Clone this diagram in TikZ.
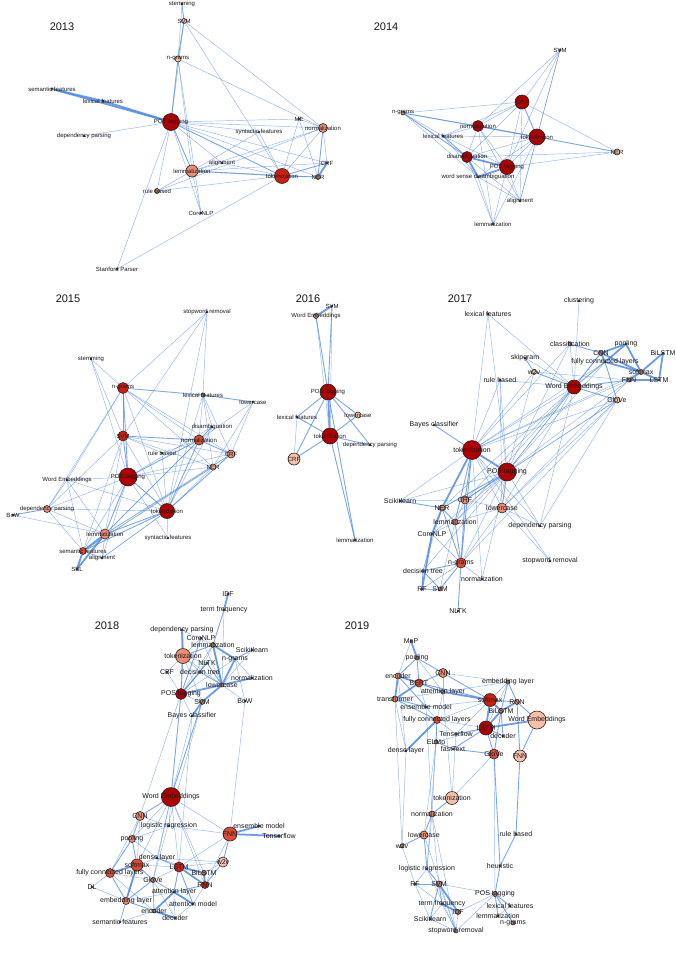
\documentclass[tikz,border=0pt]{standalone}
\usepackage{fontspec}
\setmainfont{Liberation Sans}
\usetikzlibrary{backgrounds}

% 节点颜色 (由深到浅)
\definecolor{c1}{HTML}{B00000}
\definecolor{c2}{HTML}{CC1F10}
\definecolor{c3}{HTML}{E04A32}
\definecolor{c4}{HTML}{EE8C72}
\definecolor{c5}{HTML}{F7BFA8}
\definecolor{c6}{HTML}{B88070}
\definecolor{eb}{HTML}{4A86E8}
\definecolor{txt}{HTML}{1A1A1A}

\newcommand{\labs}{\fontsize{6}{7}\selectfont}
\newcommand{\labm}{\fontsize{7}{8}\selectfont}

\tikzset{
  v/.style={circle, draw=black!85, line width=0.6pt, inner sep=0pt, minimum size=#1, fill=c6},
  v/.default=2.5pt,
  every label/.style={text=txt, inner sep=0pt, font=\labs},
  yr/.style={font=\fontsize{11}{12}\selectfont, text=txt},
  e/.style={draw=eb, line width=0.45pt, opacity=0.6},
  em/.style={draw=eb, line width=0.9pt, opacity=0.72},
  et/.style={draw=eb, line width=1.8pt, opacity=0.82}
}

\begin{document}
\begin{tikzpicture}[x=1pt, y=-1pt]
  % 画布大小
  \begin{scope}[on background layer]
    \fill[white] (0,0) rectangle (676,956);
  \end{scope}
  \useasboundingbox (0,0) rectangle (676,956);

  % 2013 年
  \node[yr] (y13) at (62,27) {2013};
  \node[v, label=center:stemming] (stem13) at (182,4) {};
  \node[v=5pt, fill=c5, label=center:SVM] (svm13) at (184,21) {};
  \node[v=6pt, fill=c5, label=center:n-grams] (ngr13) at (178,59) {};
  \node[v, label=center:semantic features] (sem13) at (52,89) {};
  \node[v, label=center:lexical features] (lex13) at (103,101) {};
  \node[v=17pt, fill=c1, label=center:POS tagging] (pos13) at (171,122) {};
  \node[v=2pt, label=center:dependency parsing] (dep13) at (84,136) {};
  \node[v=2pt, label=center:ME] (me13) at (299,119) {};
  \node[v=9pt, fill=c4, label=center:normalization] (norm13) at (323,128) {};
  \node[v=2pt, label=center:syntactic features] (syn13) at (259,132) {};
  \node[v=2pt, label=center:alignment] (ali13) at (222,163) {};
  \node[v=12pt, fill=c4, label=center:lemmatization] (lem13) at (192,171) {};
  \node[v, label=center:CRF] (crf13) at (327,163) {};
  \node[v=15pt, fill=c2, label=center:tokenization] (tok13) at (282,176) {};
  \node[v=5pt, label=center:NER] (ner13) at (318,177) {};
  \node[v=5pt, label=center:rule based] (rule13) at (157,191) {};
  \node[v=2pt, label=center:CoreNLP] (core13) at (201,213) {};
  \node[v=2pt, label=center:Stanford Parser] (stan13) at (117,269) {};
  \begin{scope}[on background layer]
    \foreach \a/\b in {sem/lex, lex/pos, sem/pos, crf/ner}
      \draw[et] (\a13) -- (\b13);
    \foreach \a/\b in {ngr/pos, svm/ngr, stem/svm, pos/lem, pos/tok, norm/ner, tok/ner, lem/tok, tok/crf}
      \draw[em] (\a13) -- (\b13);
    \foreach \a/\b in {stem/ngr, svm/tok, svm/norm, svm/pos, ngr/norm, ngr/lem, ngr/core, pos/dep, pos/me,
      pos/norm, pos/syn, pos/crf, pos/ner, pos/ali, pos/rule, pos/core, pos/stan, lem/norm, lem/ali, lem/core,
      lem/rule, lem/crf, lem/syn, rule/tok, tok/norm, tok/me, tok/stan, tok/syn, ali/tok, norm/crf, me/norm,
      rule/norm, lem/ner, me/ner}
      \draw[e] (\a13) -- (\b13);
  \end{scope}

  % 2014 年
  \node[yr] (y14) at (386,27) {2014};
  \node[v, label=center:SVM] (svm14) at (560,50) {};
  \node[v=14pt, fill=c1, label=center:CRF] (crf14) at (522,102) {};
  \node[v=4pt, label=center:n-grams] (ngr14) at (403,113) {};
  \node[v=11pt, fill=c1, label=center:normalization] (norm14) at (478,126) {};
  \node[v=2pt, label=center:lexical features] (lex14) at (443,136) {};
  \node[v=16pt, fill=c1, label=center:tokenization] (tok14) at (537,137) {};
  \node[v=6pt, fill=c5, label=center:NER] (ner14) at (617,152) {};
  \node[v=11pt, fill=c1, label=center:disambiguation] (dis14) at (467,157) {};
  \node[v=15pt, fill=c1, label=center:POS tagging] (pos14) at (507,167) {};
  \node[v=2pt, label=center:word sense disambiguation] (wsd14) at (478,177) {};
  \node[v=2pt, label=center:alignment] (ali14) at (520,201) {};
  \node[v=2pt, label=center:lemmatization] (lem14) at (493,224) {};
  \begin{scope}[on background layer]
    \foreach \a/\b in {dis/wsd, dis/pos, wsd/pos}
      \draw[et] (\a14) -- (\b14);
    \foreach \a/\b in {ngr/tok, norm/tok, tok/ner, crf/tok, lex/dis, ngr/dis}
      \draw[em] (\a14) -- (\b14);
    \foreach \a/\b in {svm/crf, svm/tok, svm/pos, svm/ali, svm/norm, ngr/crf, ngr/norm, ngr/lex, ngr/wsd,
      crf/norm, crf/dis, crf/pos, crf/ali, crf/ner, crf/lex, norm/dis, norm/pos, norm/lex, norm/ali, lex/tok,
      lex/pos, lex/wsd, tok/dis, tok/pos, tok/ali, tok/lem, dis/ner, pos/ner, dis/lem, dis/ali, pos/ali,
      pos/lem, wsd/ali, wsd/lem, norm/lem, tok/wsd}
      \draw[e] (\a14) -- (\b14);
  \end{scope}

  % 2015 年
  \node[yr] (y15) at (68,299) {2015};
  \node[v=2pt, label=center:stopword removal] (stop15) at (207,312) {};
  \node[v=2pt, label=center:stemming] (stem15) at (91,359) {};
  \node[v=11pt, fill=c2, label=center:n-grams] (ngr15) at (123,388) {};
  \node[v=4pt, label=center:lexical features] (lex15) at (203,395) {};
  \node[v=2pt, label=center:lowercase] (low15) at (253,402) {};
  \node[v=2pt, label=center:disambiguation] (dis15) at (212,427) {};
  \node[v=10pt, fill=c2, label=center:SVM] (svm15) at (123,436) {};
  \node[v=10pt, fill=c3, label=center:normalization] (norm15) at (199,440) {};
  \node[v=8pt, fill=c4, label=center:CRF] (crf15) at (231,454) {};
  \node[v=2pt, label=center:rule based] (rule15) at (162,453) {};
  \node[v=6pt, fill=c5, label=center:NER] (ner15) at (213,467) {};
  \node[v=18pt, fill=c1, label=center:POS tagging] (pos15) at (128,477) {};
  \node[v=2pt, label=center:Word Embeddings] (we15) at (67,480) {};
  \node[v=7pt, fill=c4, label=center:dependency parsing] (dep15) at (47,509) {};
  \node[v=2pt, label=center:BoW] (bow15) at (13,515) {};
  \node[v=15pt, fill=c1, label=center:tokenization] (tok15) at (167,511) {};
  \node[v=10pt, fill=c4, label=center:lemmatization] (lem15) at (105,534) {};
  \node[v=2pt, label=center:syntactic features] (syn15) at (168,538) {};
  \node[v=7pt, fill=c3, label=center:semantic features] (sem15) at (83,551) {};
  \node[v=2pt, label=center:alignment] (ali15) at (102,558) {};
  \node[v=2pt, label=center:SBL] (sbl15) at (77,569) {};
  \begin{scope}[on background layer]
    \foreach \a/\b in {sem/sbl, sem/lem, lem/sbl}
      \draw[et] (\a15) -- (\b15);
    \foreach \a/\b in {ngr/lex, lex/low, norm/crf, ngr/pos, svm/pos, pos/lem, dep/bow, norm/pos, tok/norm,
      tok/crf, lem/norm, lem/tok, sem/tok, ngr/svm, svm/norm, dis/norm, pos/tok}
      \draw[em] (\a15) -- (\b15);
    \foreach \a/\b in {stop/ngr, stop/lex, stop/svm, stop/tok, stem/ngr, stem/svm, stem/pos, ngr/norm, ngr/crf,
      ngr/ner, ngr/dep, ngr/we, ngr/tok, lex/dis, lex/norm, lex/ner, lex/crf, lex/tok, low/crf, low/norm,
      low/ner, svm/crf, svm/ner, svm/rule, svm/tok, svm/lem, svm/dep, svm/sem, dis/pos, dis/tok, pos/crf,
      pos/ner, pos/we, pos/dep, pos/syn, pos/ali, pos/sem, we/tok, we/dep, we/sem, we/lem, dep/lem, dep/tok,
      dep/sem, tok/syn, tok/ner, tok/ali, lem/ali, lem/crf, lem/ner, sem/ali, sem/ner, rule/tok, rule/norm,
      ali/tok, sem/crf, bow/lem}
      \draw[e] (\a15) -- (\b15);
  \end{scope}

  % 2016 年
  \node[yr] (y16) at (308,299) {2016};
  \node[v=2pt, label=center:SVM] (svm16) at (332,306) {};
  \node[v=5pt, label=center:Word Embeddings] (we16) at (316,316) {};
  \node[v=16pt, fill=c1, label=center:POS tagging] (pos16) at (328,392) {};
  \node[v=2pt, label=center:lexical features] (lex16) at (297,417) {};
  \node[v=6pt, fill=c5, label=center:lowercase] (low16) at (358,415) {};
  \node[v=16pt, fill=c1, label=center:tokenization] (tok16) at (330,436) {};
  \node[v=2pt, label=center:dependency parsing] (dep16) at (370,445) {};
  \node[v=12pt, fill=c5, label=center:CRF] (crf16) at (294,459) {};
  \node[v=2pt, label=center:lemmatization] (lem16) at (355,540) {};
  \begin{scope}[on background layer]
    \foreach \a/\b in {svm/we, pos/tok}
      \draw[et] (\a16) -- (\b16);
    \foreach \a/\b in {we/pos, svm/pos, pos/lex, pos/low, pos/crf, tok/crf, tok/lex, tok/low, tok/dep, pos/dep,
      tok/lem, pos/lem}
      \draw[em] (\a16) -- (\b16);
    \foreach \a/\b in {we/tok, svm/tok, lex/crf}
      \draw[e] (\a16) -- (\b16);
  \end{scope}

  % 2017 年
  \node[yr] (y17) at (460,299) {2017};
  \begin{scope}[every label/.append style={font=\labm}]
  \node[v=2pt, label=center:clustering] (clu17) at (579,301) {};
  \node[v, label=center:lexical features] (lexf17) at (488,314) {};
  \node[v=4pt, label=center:classification] (cls17) at (570,344) {};
  \node[v=2pt, label=center:pooling] (pool17) at (626,344) {};
  \node[v=5pt, label=center:CNN] (cnn17) at (601,353) {};
  \node[v=2pt, label=center:BiLSTM] (bil17) at (663,353) {};
  \node[v=2pt, label=center:skipgram] (skip17) at (525,358) {};
  \node[v, label=center:fully connected layers] (fcl17) at (605,362) {};
  \node[v=5pt, fill=c5, label=center:w2v] (w2v17) at (534,372) {};
  \node[v=5pt, label=center:softmax] (soft17) at (641,372) {};
  \node[v=2pt, label=center:rule based] (rule17) at (500,380) {};
  \node[v=4pt, label=center:FNN] (fnn17) at (629,380) {};
  \node[v=2pt, label=center:LSTM] (lstm17) at (659,380) {};
  \node[v=14pt, fill=c1, label=center:Word Embeddings] (we17) at (574,387) {};
  \node[v=6pt, fill=c5, label=center:GloVe] (glv17) at (617,400) {};
  \node[v=2pt, label=center:Bayes classifier] (bay17) at (434,425) {};
  \node[v=19pt, fill=c1, label=center:tokenization] (tok17) at (472,450) {};
  \node[v=18pt, fill=c1, label=center:POS tagging] (pos17) at (507,472) {};
  \node[v=2pt, label=center:Scikitlearn] (sci17) at (400,501) {};
  \node[v=8pt, fill=c4, label=center:CRF] (crf17) at (465,500) {};
  \node[v=6pt, fill=c4, label=center:NER] (ner17) at (442,508) {};
  \node[v=10pt, fill=c4, label=center:lowercase] (low17) at (502,508) {};
  \node[v=6pt, fill=c4, label=center:lemmatization] (lem17) at (455,522) {};
  \node[v=2pt, label=center:dependency parsing] (dep17) at (540,526) {};
  \node[v, label=center:CoreNLP] (core17) at (432,534) {};
  \node[v=10pt, fill=c3, label=center:n-grams] (ngr17) at (461,563) {};
  \node[v=2pt, label=center:stopword removal] (stop17) at (550,561) {};
  \node[v, label=center:decision tree] (dt17) at (423,571) {};
  \node[v=2pt, label=center:normalization] (norm17) at (482,579) {};
  \node[v, label=center:RF] (rf17) at (422,589) {};
  \node[v=4pt, label=center:SVM] (svm17) at (440,589) {};
  \node[v=2pt, label=center:NLTK] (nltk17) at (458,611) {};
  \end{scope}
  \begin{scope}[on background layer]
    \foreach \a/\b in {cnn/pool, pool/soft, cnn/soft, bil/lstm, soft/lstm, soft/bil, fcl/soft, cnn/fcl,
      fnn/soft, tok/ner, ner/core, core/rf, tok/pos, fnn/lstm, pool/fcl}
      \draw[et] (\a17) -- (\b17);
    \foreach \a/\b in {skip/w2v, w2v/we, tok/crf, tok/lem, pos/crf, pos/ner, pos/low, ner/lem, lem/ngr,
      ner/ngr, ngr/dt, ngr/svm, dt/rf, ngr/nltk, tok/bay, we/glv, we/fnn, we/cnn, cls/cnn, fcl/glv, we/fcl,
      tok/ngr, crf/ngr, sci/ner, dt/svm}
      \draw[em] (\a17) -- (\b17);
    \foreach \a/\b in {clu/we, lexf/tok, lexf/pos, lexf/we, cls/tok, cls/we, cls/pos, rule/tok, rule/pos,
      rule/we, rule/low, w2v/tok, w2v/pos, we/tok, we/pos, we/low, we/crf, we/ner, we/dep, glv/tok, glv/pos,
      glv/low, glv/dep, fnn/tok, fnn/pos, soft/tok, fcl/tok, cnn/pos, tok/low, tok/dep, tok/stop, tok/sci,
      pos/sci, pos/lem, pos/dep, pos/ngr, pos/core, pos/dt, pos/norm, sci/crf, crf/lem, crf/low, low/ngr,
      low/lem, low/dep, ner/dt, ngr/rf, ngr/norm, ngr/core, lem/core, lem/svm, rf/svm, core/dt, tok/norm,
      we/lem, skip/we, w2v/fnn, fcl/pos, glv/crf, low/stop, glv/ngr, fnn/low}
      \draw[e] (\a17) -- (\b17);
  \end{scope}

  % 2018 年
  \node[yr] (y18) at (107,626) {2018};
  \begin{scope}[every label/.append style={font=\labm}]
  \node[v, label=center:IDF] (idf18) at (228,594) {};
  \node[v=2pt, label=center:term frequency] (tf18) at (224,610) {};
  \node[v, label=center:dependency parsing] (dep18) at (182,630) {};
  \node[v=2pt, label=center:CoreNLP] (core18) at (201,638) {};
  \node[v=5pt, label=center:lemmatization] (lem18) at (213,645) {};
  \node[v=2pt, label=center:Scikitlearn] (sci18) at (252,650) {};
  \node[v=15pt, fill=c4, label=center:tokenization] (tok18) at (183,656) {};
  \node[v, label=center:n-grams] (ngr18) at (235,659) {};
  \node[v, label=center:NLTK] (nltk18) at (207,663) {};
  \node[v=2pt, label=center:CBF] (cbf18) at (167,672) {};
  \node[v=2pt, label=center:decision tree] (dt18) at (200,672) {};
  \node[v=2pt, label=center:normalization] (norm18) at (252,678) {};
  \node[v=4pt, label=center:lowercase] (low18) at (222,685) {};
  \node[v=11pt, fill=c1, label=center:POS tagging] (pos18) at (181,694) {};
  \node[v=5pt, label=center:SVM] (svm18) at (202,702) {};
  \node[v=2pt, label=center:BoW] (bow18) at (245,701) {};
  \node[v=2pt, label=center:Bayes classifier] (bay18) at (192,716) {};
  \node[v=19pt, fill=c1, label=center:Word Embeddings] (we18) at (171,797) {};
  \node[v=9pt, fill=c4, label=center:CNN] (cnn18) at (140,816) {};
  \node[v=2pt, label=center:logistic regression] (logr18) at (169,826) {};
  \node[v=2pt, label=center:ensemble model] (ens18) at (259,826) {};
  \node[v=14pt, fill=c3, label=center:FNN] (fnn18) at (230,834) {};
  \node[v=2pt, label=center:Tensorflow] (tens18) at (279,836) {};
  \node[v=7pt, fill=c4, label=center:pooling] (pool18) at (132,839) {};
  \node[v=2pt, label=center:dense layer] (dense18) at (157,858) {};
  \node[v=12pt, fill=c3, label=center:softmax] (soft18) at (137,865) {};
  \node[v=10pt, fill=c2, label=center:LSTM] (lstm18) at (179,867) {};
  \node[v=10pt, fill=c5, label=center:w2v] (w2v18) at (223,862) {};
  \node[v=9pt, fill=c3, label=center:fully connected layers] (fcl18) at (110,873) {};
  \node[v=5pt, label=center:BiLSTM] (bil18) at (204,873) {};
  \node[v=5pt, label=center:GloVe] (glv18) at (153,880) {};
  \node[v=7pt, fill=c2, label=center:RNN] (rnn18) at (205,885) {};
  \node[v=2pt, label=center:DL] (dl18) at (92,887) {};
  \node[v, label=center:attention layer] (att18) at (174,892) {};
  \node[v=7pt, fill=c4, label=center:embedding layer] (emb18) at (126,901) {};
  \node[v=2pt, label=center:attention model] (attm18) at (193,904) {};
  \node[v=4pt, label=center:encoder] (enc18) at (154,911) {};
  \node[v=2pt, label=center:decoder] (dec18) at (175,918) {};
  \node[v=2pt, label=center:semantic features] (semf18) at (120,922) {};
  \end{scope}
  \begin{scope}[on background layer]
    \foreach \a/\b in {idf/tf, dep/tok, low/norm, low/ngr, low/lem, lem/ngr, pos/low, svm/low, svm/bay,
      fcl/soft, lstm/bil, lstm/rnn, bil/rnn, att/attm, enc/dec, enc/att, soft/emb, fnn/ens, fnn/tens}
      \draw[et] (\a18) -- (\b18);
    \foreach \a/\b in {tf/lem, tok/pos, tok/lem, pos/dt, pos/nltk, dt/low, nltk/low, core/pos, sci/ngr,
      we/cnn, cnn/pool, pool/soft, pool/fcl, soft/glv, lstm/att, lstm/attm, lstm/dense, enc/glv, att/rnn,
      w2v/rnn, fnn/w2v, fcl/emb, emb/glv, emb/dec, pos/we, svm/we}
      \draw[em] (\a18) -- (\b18);
    \foreach \a/\b in {tf/low, dep/pos, dep/lem, core/tok, core/low, tok/nltk, tok/dt, tok/low, tok/svm,
      cbf/pos, cbf/tok, lem/pos, lem/low, lem/dt, ngr/pos, ngr/bow, ngr/norm, sci/low, nltk/dt, pos/svm,
      pos/bay, bow/low, bay/we, bay/lstm, bow/fnn, pos/cnn, svm/glv, we/logr, we/fnn, we/pool, we/soft,
      we/lstm, we/glv, we/bil, we/dense, we/rnn, cnn/fcl, cnn/soft, cnn/logr, logr/fnn, logr/pool, pool/dense,
      soft/dense, soft/lstm, fcl/dl, fcl/glv, fcl/enc, soft/semf, emb/semf, emb/dl, enc/semf, glv/lstm,
      glv/att, dense/w2v, dense/bil, w2v/lstm, w2v/bil, fnn/lstm, fnn/rnn, att/dec, attm/dec, attm/rnn,
      glv/dec, glv/attm, emb/att}
      \draw[e] (\a18) -- (\b18);
  \end{scope}

  % 2019 年
  \node[yr] (y19) at (357,626) {2019};
  \begin{scope}[every label/.append style={font=\labm}]
  \node[v=2pt, label=center:MaP] (map19) at (411,641) {};
  \node[v=4pt, label=center:pooling] (pool19) at (417,658) {};
  \node[v=9pt, fill=c4, label=center:CNN] (cnn19) at (443,673) {};
  \node[v=6pt, fill=c4, label=center:encoder] (enc19) at (398,676) {};
  \node[v=8pt, fill=c3, label=center:BERT] (bert19) at (419,683) {};
  \node[v=4pt, label=center:embedding layer] (embl19) at (508,682) {};
  \node[v=4pt, label=center:attention layer] (attl19) at (443,692) {};
  \node[v=6pt, fill=c4, label=center:transformer] (trans19) at (395,699) {};
  \node[v=13pt, fill=c2, label=center:softmax] (soft19) at (490,700) {};
  \node[v=5pt, fill=c4, label=center:RNN] (rnn19) at (517,702) {};
  \node[v=2pt, label=center:ensemble model] (ens19) at (426,707) {};
  \node[v=5pt, label=center:BiLSTM] (bil19) at (501,711) {};
  \node[v=18pt, fill=c5, label=center:Word Embeddings] (we19) at (537,720) {};
  \node[v=7pt, fill=c3, label=center:fully connected layers] (fcl19) at (437,720) {};
  \node[v=14pt, fill=c1, label=center:LSTM] (lstm19) at (486,728) {};
  \node[v=2pt, label=center:Tensorflow] (tens19) at (456,734) {};
  \node[v=2pt, label=center:decoder] (dec19) at (503,736) {};
  \node[v=4pt, label=center:ELMo] (elmo19) at (436,742) {};
  \node[v=2pt, label=center:fastText] (fast19) at (453,749) {};
  \node[v=2pt, label=center:dense layer] (dense19) at (406,751) {};
  \node[v=10pt, fill=c3, label=center:GloVe] (glv19) at (494,754) {};
  \node[v=12pt, fill=c5, label=center:FNN] (fnn19) at (520,756) {};
  \node[v=13pt, fill=c5, label=center:tokenization] (tok19) at (452,798) {};
  \node[v=6pt, fill=c4, label=center:normalization] (norm19) at (432,814) {};
  \node[v=2pt, label=center:rule based] (rule19) at (516,834) {};
  \node[v=8pt, fill=c4, label=center:lowercase] (low19) at (424,835) {};
  \node[v=4pt, label=center:w2v] (w2v19) at (402,846) {};
  \node[v=2pt, label=center:heuristic] (heur19) at (500,866) {};
  \node[v=2pt, label=center:logistic regression] (logr19) at (427,869) {};
  \node[v=2pt, label=center:RF] (rf19) at (415,884) {};
  \node[v=6pt, label=center:SVM] (svm19) at (439,884) {};
  \node[v=5pt, label=center:POS tagging] (pos19) at (495,894) {};
  \node[v, label=center:term frequency] (tf19) at (442,904) {};
  \node[v=2pt, label=center:lexical features] (lexf19) at (510,906) {};
  \node[v=5pt, label=center:IDF] (idf19) at (458,912) {};
  \node[v=2pt, label=center:Scikitlearn] (sci19) at (430,919) {};
  \node[v=2pt, label=center:lemmatization] (lem19) at (498,916) {};
  \node[v=4pt, label=center:n-grams] (ngr19) at (513,923) {};
  \node[v=4pt, label=center:stopword removal] (stop19) at (456,931) {};
  \end{scope}
  \begin{scope}[on background layer]
    \foreach \a/\b in {enc/trans, bert/trans, enc/bert, map/pool, lstm/bil, bil/rnn, lstm/soft, fcl/dense,
      lstm/we, soft/attl, svm/idf, tf/idf, soft/bil}
      \draw[et] (\a19) -- (\b19);
    \foreach \a/\b in {pool/cnn, pool/bert, pool/enc, cnn/bert, cnn/soft, bert/attl, bert/soft, trans/ens,
      trans/fcl, enc/ens, lstm/glv, lstm/tens, lstm/fast, elmo/fast, glv/fast, soft/rnn, rnn/fnn, bil/glv,
      we/fnn, rnn/we, embl/rnn, embl/bil, dec/lstm, dec/bil, fcl/elmo, tok/norm, norm/low, low/w2v,
      low/logr, logr/svm, svm/rf, svm/tf, svm/sci, pos/lexf, pos/lem, pos/ngr, pos/heur, heur/rule,
      rule/fnn, glv/heur}
      \draw[em] (\a19) -- (\b19);
    \foreach \a/\b in {trans/dense, enc/dense, trans/attl, enc/attl, ens/soft, ens/fcl, fcl/lstm, fcl/soft,
      attl/fcl, tens/soft, tens/fcl, elmo/lstm, embl/soft, embl/lstm, embl/attl, cnn/embl, glv/tok,
      trans/w2v, dense/w2v, ens/norm, fcl/norm, elmo/low, elmo/logr, tens/tok, attl/tok, norm/svm,
      norm/logr, logr/rf, rf/tf, rf/sci, svm/pos, svm/stop, tf/sci, tf/stop, idf/stop, pos/stop, pos/idf,
      lexf/lem, sci/stop, logr/stop, w2v/rf, glv/pos, cnn/attl, bert/ens, map/enc, pool/attl, low/stop,
      norm/stop}
      \draw[e] (\a19) -- (\b19);
  \end{scope}
\end{tikzpicture}
\end{document}
